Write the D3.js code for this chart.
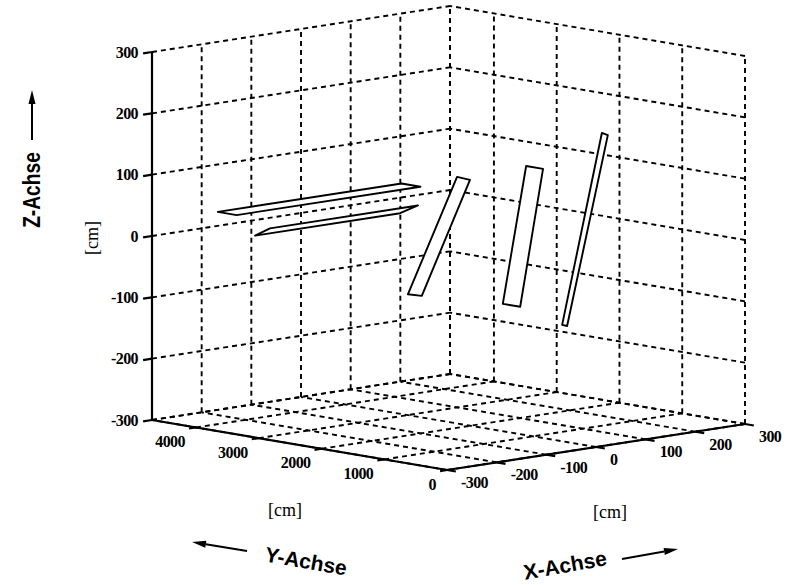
<!DOCTYPE html>
<html>
<head>
<meta charset="utf-8">
<script src="https://cdn.jsdelivr.net/npm/d3@7"></script>
<style>
  html, body { margin: 0; padding: 0; background: #fff; }
  svg { display: block; }
</style>
</head>
<body>
<svg id="chart" width="795" height="585"></svg>
<script>
// Axis limits and tick values (cm)
const xLimits = [-300, 300];
const yLimits = [0, 4700];
const zLimits = [-300, 300];
const xTicks = [-300, -200, -100, 0, 100, 200, 300];
const yTicks = [0, 1000, 2000, 3000, 4000];
const zTicks = [-300, -200, -100, 0, 100, 200, 300];

// Plates: corner points [x, y, z] in cm
const stripUpper = [[-218, 4300, 36], [152, 4300, 36], [152, 4000, 36], [-218, 4000, 36]];
const stripLower = [[-143, 4300, -12], [149, 4300, -12], [147, 4000, 6], [-151, 4000, 6]];
const panelFar   = [[-27, 2000, 109], [-1, 2000, 101], [-98, 2000, -76], [-126, 2000, -70]];
const panelMid   = [[11, 1200, 136], [45, 1200, 127], [-1, 1200, -92], [-36, 1200, -83]];
const panelNear  = [[75, 500, 194], [87, 500, 189], [5, 500, -112], [-5, 500, -109]];
const plates = [stripUpper, stripLower, panelFar, panelMid, panelNear];

const svg = d3.select("#chart");

// Normalised axis scales
const sx = d3.scaleLinear().domain(xLimits).range([0, 1]);
const sy = d3.scaleLinear().domain(yLimits).range([0, 1]);
const sz = d3.scaleLinear().domain(zLimits).range([0, 1]);

// Orthographic view: screen vectors spanned by each full axis range
const origin = [447, 470];           // (xmin, ymin, zmin)
const ex = [298, -46];
const ey = [-295, -50];
const ez = [0, -368];

function P(x, y, z) {
  const u = sx(x), v = sy(y), w = sz(z);
  return [origin[0] + ex[0] * u + ey[0] * v + ez[0] * w,
          origin[1] + ex[1] * u + ey[1] * v + ez[1] * w];
}

const line = d3.line();
const [x0, x1] = xLimits, [y0, y1] = yLimits, [z0, z1] = zLimits;

// Grid lines on the floor and the two back walls
const grid = [];
xTicks.forEach(x => grid.push([P(x, y0, z0), P(x, y1, z0)]));        // floor, along y
yTicks.forEach(y => grid.push([P(x0, y, z0), P(x1, y, z0)]));        // floor, along x
xTicks.forEach(x => grid.push([P(x, y1, z0), P(x, y1, z1)]));        // back wall y = ymax
zTicks.forEach(z => grid.push([P(x0, y1, z), P(x1, y1, z)]));
yTicks.forEach(y => grid.push([P(x1, y, z0), P(x1, y, z1)]));        // side wall x = xmax
zTicks.forEach(z => grid.push([P(x1, y0, z), P(x1, y1, z)]));
grid.push([P(x1, y1, z0), P(x1, y1, z1)]);
grid.push([P(x0, y1, z0), P(x1, y1, z0)]);

svg.append("g")
  .selectAll("path").data(grid).join("path")
  .attr("d", d => line(d))
  .attr("fill", "none")
  .attr("stroke", "#000")
  .attr("stroke-width", 1.9)
  .attr("stroke-dasharray", "5,4");

// Solid axis lines
const axes = [
  [P(x0, y1, z0), P(x0, y1, z1)],   // z axis
  [P(x0, y1, z0), P(x0, y0, z0)],   // y axis
  [P(x0, y0, z0), P(x1, y0, z0)]    // x axis
];
svg.append("g")
  .selectAll("path").data(axes).join("path")
  .attr("d", d => line(d))
  .attr("fill", "none")
  .attr("stroke", "#000")
  .attr("stroke-width", 2.2);

// Plates
svg.append("g")
  .selectAll("path").data(plates).join("path")
  .attr("d", d => line(d.map(p => P(p[0], p[1], p[2]))) + "Z")
  .attr("fill", "#fff")
  .attr("stroke", "#000")
  .attr("stroke-width", 1.9)
  .attr("stroke-linejoin", "round");

// Tick marks
function unit(v, len) { const n = Math.hypot(v[0], v[1]); return [v[0] / n * len, v[1] / n * len]; }
const tX = unit([-ey[0], -ey[1]], 9);   // x ticks point towards -y
const tY = unit([-ex[0], -ex[1]], 7);   // y ticks point towards -x
const tZ = unit([-ex[0], -ex[1]], 9);   // z ticks point towards -x
const ticks = [];
xTicks.forEach(x => { const p = P(x, y0, z0); ticks.push([p, [p[0] + tX[0], p[1] + tX[1]]]); });
yTicks.forEach(y => { const p = P(x0, y, z0); ticks.push([p, [p[0] + tY[0], p[1] + tY[1]]]); });
zTicks.forEach(z => { const p = P(x0, y1, z); ticks.push([p, [p[0] + tZ[0], p[1] + tZ[1]]]); });
svg.append("g")
  .selectAll("path").data(ticks).join("path")
  .attr("d", d => line(d))
  .attr("stroke", "#000")
  .attr("stroke-width", 2.2);

// Tick labels
const tickFont = { family: "'Liberation Serif', 'Times New Roman', serif", size: 16 };
function tickText(g, data, pos, anchor) {
  g.selectAll("text").data(data).join("text")
    .attr("x", d => pos(d)[0])
    .attr("y", d => pos(d)[1])
    .attr("text-anchor", anchor)
    .attr("dominant-baseline", "central")
    .attr("font-family", tickFont.family)
    .attr("font-size", tickFont.size)
    .attr("font-weight", "bold")
    .attr("letter-spacing", -0.6)
    .text(d => d);
}
tickText(svg.append("g"), zTicks, z => { const p = P(x0, y1, z); return [p[0] - 14, p[1]]; }, "end");
tickText(svg.append("g"), yTicks, y => { const p = P(x0, y, z0); return [p[0] - 11, p[1] + 14]; }, "end");
tickText(svg.append("g"), xTicks, x => { const p = P(x, y0, z0); return [p[0] + 14, p[1] + 12.5]; }, "start");

// Unit labels
const unitFont = "'Liberation Serif', 'Times New Roman', serif";
svg.append("text").attr("x", 285).attr("y", 510)
  .attr("text-anchor", "middle").attr("dominant-baseline", "central")
  .attr("font-family", unitFont).attr("font-size", 18).text("[cm]");
svg.append("text").attr("x", 610).attr("y", 512)
  .attr("text-anchor", "middle").attr("dominant-baseline", "central")
  .attr("font-family", unitFont).attr("font-size", 18).text("[cm]");
svg.append("text").attr("transform", "translate(92,238) rotate(-90)")
  .attr("text-anchor", "middle").attr("dominant-baseline", "central")
  .attr("font-family", unitFont).attr("font-size", 18).text("[cm]");

// Axis titles
const titleFont = "'Liberation Sans', Arial, sans-serif";
svg.append("text").attr("transform", "translate(306,561) rotate(10)")
  .attr("text-anchor", "middle").attr("dominant-baseline", "central")
  .attr("font-family", titleFont).attr("font-size", 21).attr("font-weight", "bold")
  .text("Y-Achse");
svg.append("text").attr("transform", "translate(565,565) rotate(-10)")
  .attr("text-anchor", "middle").attr("dominant-baseline", "central")
  .attr("font-family", titleFont).attr("font-size", 21).attr("font-weight", "bold")
  .text("X-Achse");
svg.append("text").attr("transform", "translate(32,190) rotate(-90) scale(0.8,1)")
  .attr("text-anchor", "middle").attr("dominant-baseline", "central")
  .attr("font-family", titleFont).attr("font-size", 24).attr("font-weight", "bold")
  .text("Z-Achse");

// Direction arrows next to the titles
const arrows = [
  [[32, 140], [32, 90]],
  [[247, 551], [192, 542]],
  [[622, 559], [678, 549]]
];
arrows.forEach(([a, b]) => {
  const d = unit([b[0] - a[0], b[1] - a[1]], 1);
  const n = [-d[1], d[0]];
  const hl = 14, hw = 3.5;
  const base = [b[0] - d[0] * hl, b[1] - d[1] * hl];
  svg.append("path").attr("d", line([a, base]))
    .attr("stroke", "#000").attr("stroke-width", 2);
  svg.append("path")
    .attr("d", line([b, [base[0] + n[0] * hw, base[1] + n[1] * hw], [base[0] - n[0] * hw, base[1] - n[1] * hw]]) + "Z")
    .attr("fill", "#000");
});
</script>
</body>
</html>
